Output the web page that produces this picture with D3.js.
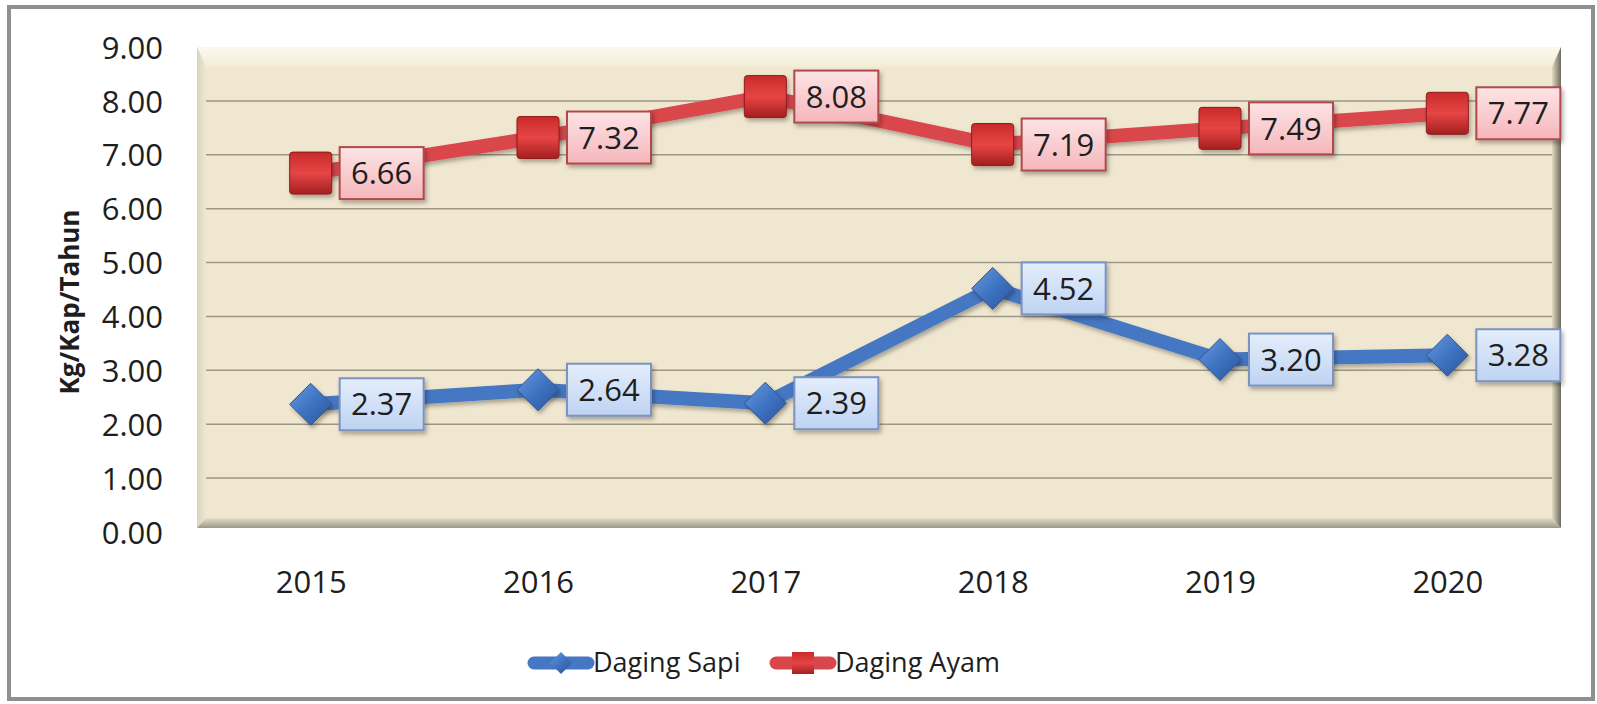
<!DOCTYPE html>
<html>
<head>
<meta charset="utf-8">
<script src="https://cdn.jsdelivr.net/npm/d3@7"></script>
<style>
  body { margin: 0; background: #fff; }
  svg text { font-family: "Open Sans", "Noto Sans", sans-serif; fill: #1e1e1e; }
</style>
</head>
<body>
<div id="chart"></div>
<script>
// data
const years = ['2015', '2016', '2017', '2018', '2019', '2020'];
const dagingSapi = [2.37, 2.64, 2.39, 4.52, 3.20, 3.28];
const dagingAyam = [6.66, 7.32, 8.08, 7.19, 7.49, 7.77];
const yTicks = [0, 1, 2, 3, 4, 5, 6, 7, 8, 9];
const seriesNames = ['Daging Sapi', 'Daging Ayam'];

const width = 1597, height = 704;
const plot = { left: 197, right: 1561, top: 47, bottom: 532 };

const svg = d3.select('#chart').append('svg')
    .attr('width', width)
    .attr('height', height);

const defs = svg.append('defs');

function linGrad(id, x1, y1, x2, y2, stops){
    let g = defs.append('linearGradient').attr('id', id)
        .attr('x1', x1).attr('y1', y1).attr('x2', x2).attr('y2', y2);
    stops.forEach(s => g.append('stop').attr('offset', s[0]).attr('stop-color', s[1]));
}
linGrad('wallTop', 0, 0, 0, 1, [[0, '#fbf8ee'], [1, '#f3ecd8']]);
linGrad('wallLeft', 0, 0, 1, 0, [[0, '#d9d3bf'], [1, '#efe7d1']]);
linGrad('wallRight', 0, 0, 1, 0, [[0, '#e2dac2'], [1, '#6d6a60']]);
linGrad('wallBottom', 0, 0, 0, 1, [[0, '#e6dec8'], [1, '#9c978a']]);
linGrad('boxRed', 0, 0, 0, 1, [[0, '#fde4e6'], [1, '#f5b6bb']]);
linGrad('boxBlue', 0, 0, 0, 1, [[0, '#e4eefc'], [1, '#bed3f2']]);
linGrad('mkRed', 0, 0, 0, 1, [[0, '#c92a2a'], [0.5, '#e64545'], [1, '#a51f1f']]);
linGrad('mkBlue', 0, 0, 1, 1, [[0, '#6a9be0'], [0.5, '#3f73c2'], [1, '#2a5498']]);

let shadow = defs.append('filter').attr('id', 'shadow')
    .attr('x', '-20%').attr('y', '-20%').attr('width', '150%').attr('height', '150%');
shadow.append('feDropShadow').attr('dx', 2).attr('dy', 3).attr('stdDeviation', 2)
    .attr('flood-color', '#000').attr('flood-opacity', 0.3);

// outer frame
svg.append('rect')
    .attr('x', 9).attr('y', 7)
    .attr('width', 1584).attr('height', 692)
    .attr('fill', '#fff')
    .attr('stroke', '#8f8f8f')
    .attr('stroke-width', 4);

// scales
const x = d3.scalePoint()
    .domain(years)
    .range([plot.left, plot.right])
    .padding(0.5);

const y = d3.scaleLinear()
    .domain([0, 9])
    .range([plot.bottom, plot.top]);

// plot area with bevelled wall
const wall = svg.append('g').attr('id', 'wall');
const bevel = 20, side = 9;
wall.append('rect')
    .attr('x', plot.left).attr('y', plot.top)
    .attr('width', plot.right - plot.left).attr('height', plot.bottom - 4 - plot.top)
    .attr('fill', '#f0e7d0');
wall.append('polygon')
    .attr('points', [[plot.left, plot.top], [plot.right, plot.top], [plot.right - side, plot.top + bevel], [plot.left + side, plot.top + bevel]].join(' '))
    .attr('fill', 'url(#wallTop)');
wall.append('polygon')
    .attr('points', [[plot.left, plot.top], [plot.left + side, plot.top + bevel], [plot.left + side, plot.bottom - 14], [plot.left, plot.bottom - 4]].join(' '))
    .attr('fill', 'url(#wallLeft)');
wall.append('polygon')
    .attr('points', [[plot.right, plot.top], [plot.right, plot.bottom - 4], [plot.right - side, plot.bottom - 14], [plot.right - side, plot.top + bevel]].join(' '))
    .attr('fill', 'url(#wallRight)');
wall.append('polygon')
    .attr('points', [[plot.left, plot.bottom - 4], [plot.right, plot.bottom - 4], [plot.right - side, plot.bottom - 14], [plot.left + side, plot.bottom - 14]].join(' '))
    .attr('fill', 'url(#wallBottom)');

// gridlines
svg.append('g').attr('id', 'grid')
    .selectAll('line')
    .data(yTicks.filter(d => d > 0 && d < 9))
    .join('line')
    .attr('x1', plot.left + side).attr('x2', plot.right - side)
    .attr('y1', d => y(d)).attr('y2', d => y(d))
    .attr('stroke', '#9d9783')
    .attr('stroke-width', 1.5);

// y axis
const yAxis = svg.append('g')
    .attr('transform', `translate(${plot.left - 34},0)`)
    .call(d3.axisLeft(y).tickValues(yTicks).tickFormat(d3.format('.2f')).tickSize(0).tickPadding(0));
yAxis.select('.domain').remove();
yAxis.selectAll('text')
    .style('font-size', '31px')
    .attr('dy', '0.36em')
    .attr('fill', '#1e1e1e');

// x axis
const xAxis = svg.append('g')
    .attr('transform', `translate(0,${plot.bottom + 38})`)
    .call(d3.axisBottom(x).tickSize(0).tickPadding(0));
xAxis.select('.domain').remove();
xAxis.selectAll('text')
    .style('font-size', '31px')
    .attr('dy', '0.36em')
    .attr('y', 12)
    .attr('fill', '#1e1e1e');

// y axis title
svg.append('text')
    .attr('transform', 'translate(79,302) rotate(-90)')
    .attr('text-anchor', 'middle')
    .style('font-size', '26px')
    .style('font-weight', 'bold')
    .text('Kg/Kap/Tahun');

// lines
const series = [
    { name: seriesNames[0], values: dagingSapi, color: '#4577c2', box: 'url(#boxBlue)', boxStroke: '#7b93c0', marker: 'diamond' },
    { name: seriesNames[1], values: dagingAyam, color: '#d9464b', box: 'url(#boxRed)', boxStroke: '#b04a4a', marker: 'square' }
];

const line = d3.line()
    .x((d, i) => x(years[i]))
    .y(d => y(d));

const lines = svg.append('g').attr('id', 'lines');
series.forEach(s => {
    lines.append('path')
        .datum(s.values)
        .attr('d', line)
        .attr('fill', 'none')
        .attr('stroke', s.color)
        .attr('stroke-width', 14)
        .attr('stroke-linejoin', 'round')
        .attr('filter', 'url(#shadow)');
});

// markers
const markerSize = 42;
const markers = svg.append('g').attr('id', 'markers');
series.forEach(s => {
    let g = markers.selectAll(null)
        .data(s.values)
        .join('g')
        .attr('transform', (d, i) => `translate(${x(years[i])},${y(d)})`)
        .attr('filter', 'url(#shadow)');
    if(s.marker == 'square'){
        g.append('rect')
            .attr('x', -markerSize / 2).attr('y', -markerSize / 2)
            .attr('width', markerSize).attr('height', markerSize)
            .attr('rx', 3)
            .attr('fill', 'url(#mkRed)')
            .attr('stroke', '#8e1c1c').attr('stroke-width', 1);
    } else {
        let h = markerSize / 2;
        g.append('polygon')
            .attr('points', [[0, -h], [h, 0], [0, h], [-h, 0]].join(' '))
            .attr('fill', 'url(#mkBlue)')
            .attr('stroke', '#2d5595').attr('stroke-width', 1);
    }
});

// data labels
const boxW = 84, boxH = 52;
const labels = svg.append('g').attr('id', 'labels');
series.forEach(s => {
    let g = labels.selectAll(null)
        .data(s.values)
        .join('g')
        .attr('transform', (d, i) => `translate(${x(years[i]) + 29},${y(d)})`);
    g.append('rect')
        .attr('x', 0).attr('y', -boxH / 2)
        .attr('width', boxW).attr('height', boxH)
        .attr('fill', s.box)
        .attr('stroke', s.boxStroke)
        .attr('stroke-width', 2)
        .attr('filter', 'url(#shadow)');
    g.append('text')
        .attr('x', boxW / 2).attr('dy', '0.36em')
        .attr('text-anchor', 'middle')
        .style('font-size', '31px')
        .text(d => d.toFixed(2));
});

// legend
const legend = svg.append('g').attr('id', 'legend');
const legendX = [530, 772];
series.forEach((s, i) => {
    let g = legend.append('g').attr('transform', `translate(${legendX[i]},663)`);
    g.append('line')
        .attr('x1', 4).attr('x2', 58)
        .attr('stroke', s.color)
        .attr('stroke-width', 13)
        .attr('stroke-linecap', 'round');
    if(s.marker == 'square'){
        g.append('rect')
            .attr('x', 20).attr('y', -11).attr('width', 22).attr('height', 22)
            .attr('fill', 'url(#mkRed)');
    } else {
        g.append('polygon')
            .attr('points', [[31, -11], [42, 0], [31, 11], [20, 0]].join(' '))
            .attr('fill', 'url(#mkBlue)');
    }
    g.append('text')
        .attr('x', 63).attr('dy', '0.34em')
        .style('font-size', '27px')
        .text(s.name);
});
</script>
</body>
</html>
